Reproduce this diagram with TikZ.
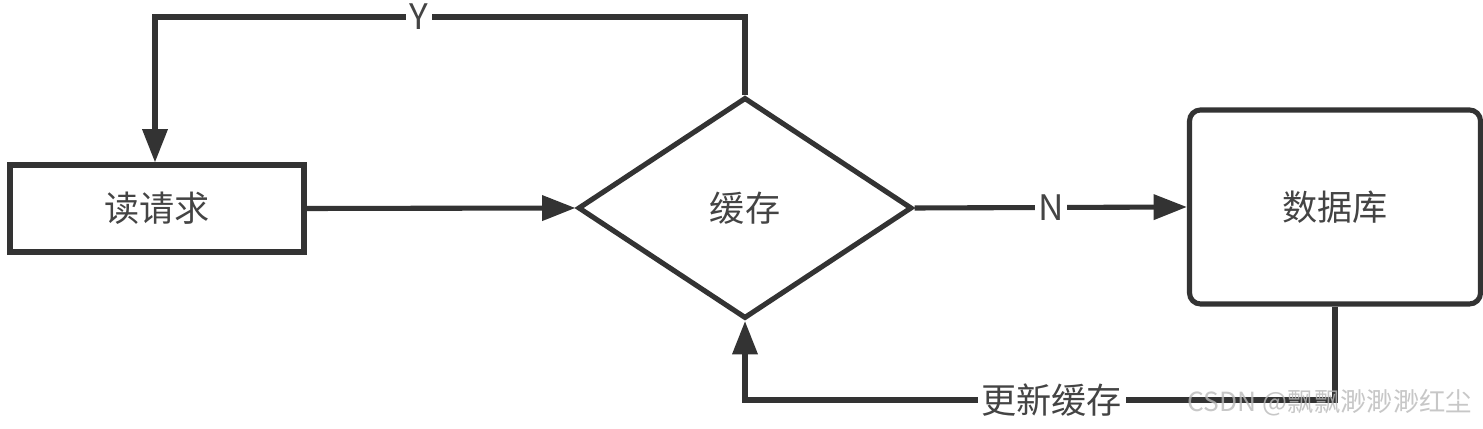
\documentclass[tikz,border=0pt]{standalone}
\usepackage{fontspec}
\newfontfamily\cjk{Noto Sans CJK SC}
\usetikzlibrary{shapes.geometric,arrows.meta}
\definecolor{ink}{HTML}{333333}
\definecolor{txt}{HTML}{444444}

\begin{document}
\begin{tikzpicture}[
  box/.style   ={draw=ink, line width=2.9pt, fill=white, minimum width=5.88cm, minimum height=1.74cm,
                 font=\cjk\fontsize{20}{24}\selectfont, text=txt},
  dbbox/.style ={box, rounded corners=0.22cm, minimum width=5.82cm, minimum height=3.88cm},
  decide/.style={diamond, draw=ink, line width=2.9pt, minimum width=6.68cm, minimum height=4.42cm,
                 inner sep=0pt, font=\cjk\fontsize{20}{24}\selectfont, text=txt},
  flow/.style  ={draw=ink, line width=2.9pt, -{Triangle[length=19pt,width=14pt]}},
  lbl/.style   ={fill=white, inner xsep=2pt, inner ysep=0pt, font=\cjk\fontsize{20}{22}\selectfont, text=txt},
  wmark/.style ={font=\cjk\fontsize{15}{18}\selectfont, text=gray!55, opacity=0.8}]

  \useasboundingbox (0,0) rectangle (29.66,8.58);

  % ---------------- nodes ----------------
  \node[box]    (rq)    at (3.14,4.41) {读请求};
  \node[decide] (cache) at (14.9,4.42) {缓存};
  \node[dbbox]  (db)    at (26.7,4.44) {数据库};

  % ---------------- turning points ----------------
  \coordinate (yturn) at (3.1,8.24);
  \coordinate (bturn) at (14.9,0.58);

  % ---------------- connectors ----------------
  \draw[flow] (rq.east) -- (cache.west);
  \draw[flow] (cache.east) -- node[lbl]{N} (db.west);
  \draw[flow] (cache.north) |- (yturn) node[lbl,pos=0.776]{Y} -- (rq.north -| yturn);
  \draw[flow] (db.south) |- (bturn) node[lbl,pos=0.74]{更新缓存} -- (cache.south);

  % ---------------- watermark ----------------
  \node[wmark] (wm) at (26.6,0.52) {CSDN @飘飘渺渺渺红尘};
\end{tikzpicture}
\end{document}
